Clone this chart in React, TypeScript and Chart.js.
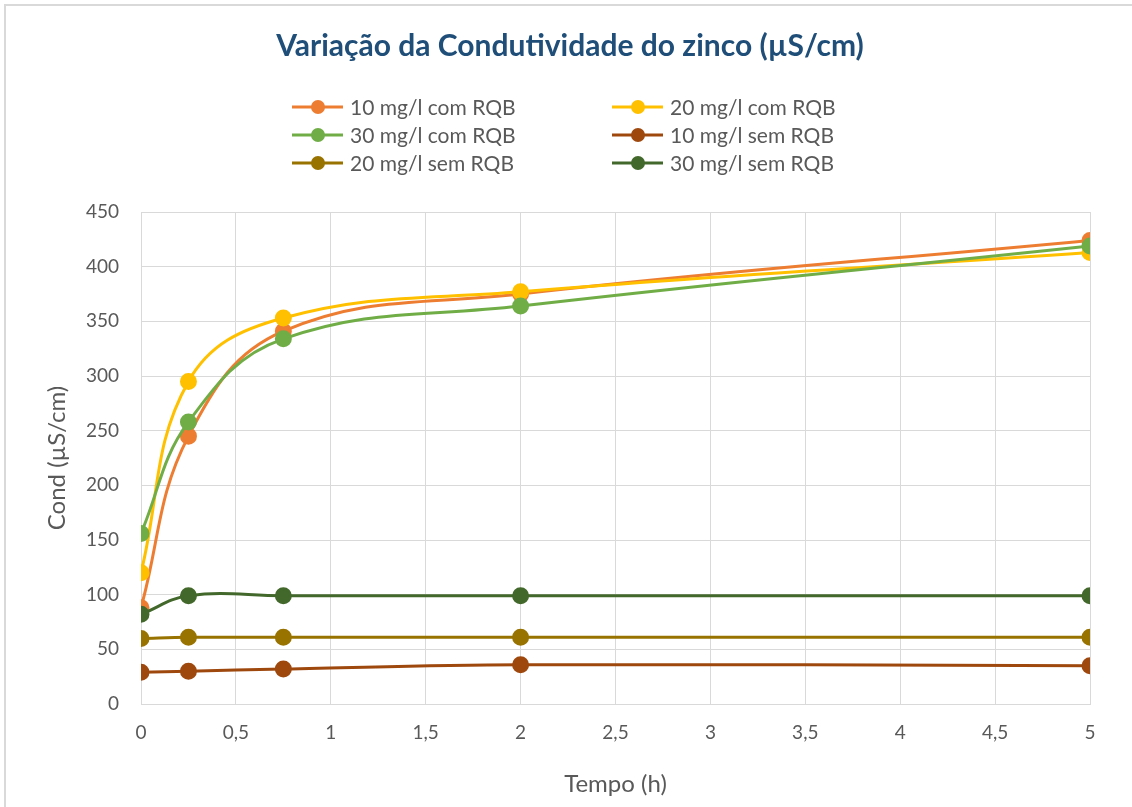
import React, { useEffect, useRef } from "react";
import { Chart, registerables } from "chart.js";

Chart.register(...registerables);

const TIMES = [0, 0.25, 0.75, 2, 5];
const SERIES_NAMES = [
  "10 mg/l com RQB",
  "20 mg/l com RQB",
  "30 mg/l com RQB",
  "10 mg/l sem RQB",
  "20 mg/l sem RQB",
  "30 mg/l sem RQB",
];
const COM10 = [88, 245, 341, 375, 424];
const COM20 = [120, 295, 353, 377, 413];
const COM30 = [156, 258, 334, 364, 419];
const SEM10 = [29, 30, 32, 36, 35];
const SEM20 = [60, 61, 61, 61, 61];
const SEM30 = [82, 99, 99, 99, 99];
const COLORS = ["#ED7D31", "#FFC000", "#70AD47", "#9E480E", "#997300", "#43682B"];
const X_TICKS_MIN = 0;
const X_TICKS_MAX = 5;
const Y_TICKS_MIN = 0;
const Y_TICKS_MAX = 450;

const TITLE = "Variação da Condutividade do zinco (µS/cm)";
const X_TITLE = "Tempo (h)";
const Y_TITLE = "Cond (µS/cm)";

const FONT = "Lato, 'Open Sans', sans-serif";
const GRAY = "#595959";

const legendPlugin = {
  id: "twoColLegend",
  afterDraw(chart: any) {
    const ctx = chart.ctx;
    const datasets = chart.data.datasets;
    const colX = [292, 612];
    const rowY = [107, 135, 163];
    ctx.save();
    ctx.font = `21px ${FONT}`;
    ctx.textBaseline = "middle";
    ctx.textAlign = "left";
    datasets.forEach((ds: any, i: number) => {
      const x = colX[i % 2];
      const y = rowY[Math.floor(i / 2)];
      ctx.strokeStyle = ds.borderColor;
      ctx.lineWidth = 3;
      ctx.beginPath();
      ctx.moveTo(x, y);
      ctx.lineTo(x + 51, y);
      ctx.stroke();
      ctx.fillStyle = ds.borderColor;
      ctx.beginPath();
      ctx.arc(x + 26, y, 7, 0, Math.PI * 2);
      ctx.fill();
      ctx.fillStyle = GRAY;
      ctx.fillText(ds.label, x + 58, y + 1);
    });
    ctx.restore();
  },
};

export default function App() {
  const ref = useRef<HTMLCanvasElement>(null);
  useEffect(() => {
    document.body.style.margin = "0";
    const values = [COM10, COM20, COM30, SEM10, SEM20, SEM30];
    const n = values.length;
    const chart = new Chart(ref.current!, {
      type: "line",
      data: {
        datasets: values.map((vals, i) => ({
          label: SERIES_NAMES[i],
          data: TIMES.map((t, j) => ({ x: t, y: vals[j] })),
          borderColor: COLORS[i],
          backgroundColor: COLORS[i],
          pointBackgroundColor: COLORS[i],
          pointBorderColor: COLORS[i],
          borderWidth: 3,
          pointRadius: 7,
          pointHoverRadius: 7,
          tension: 0.4,
          fill: false,
          order: n - i,
        })),
      },
      options: {
        animation: false,
        responsive: false,
        maintainAspectRatio: false,
        layout: { padding: { left: 8, right: 0, top: 0, bottom: 0 } },
        plugins: {
          legend: { display: false },
          tooltip: { enabled: false },
          title: {
            display: true,
            text: TITLE,
            color: "#1F4E79",
            font: { family: FONT, size: 30, weight: "bold" },
            padding: { top: 28, bottom: 148 },
          },
        },
        scales: {
          x: {
            type: "linear",
            min: X_TICKS_MIN,
            max: X_TICKS_MAX,
            grid: { color: "#D9D9D9", lineWidth: 1, drawTicks: false },
            border: { color: "#D9D9D9", width: 1 },
            afterFit: (scale: any) => {
              scale.height = 103;
            },
            ticks: {
              stepSize: 0.5,
              padding: 17,
              color: GRAY,
              font: { family: FONT, size: 19 },
              callback: (v: any) => String(v).replace(".", ","),
            },
            title: {
              display: true,
              text: X_TITLE,
              color: GRAY,
              font: { family: FONT, size: 24 },
              padding: { top: 0, bottom: 8 },
            },
          },
          y: {
            min: Y_TICKS_MIN,
            max: Y_TICKS_MAX,
            grid: { color: "#D9D9D9", lineWidth: 1, drawTicks: false },
            border: { color: "#D9D9D9", width: 1 },
            afterFit: (scale: any) => {
              scale.width = 133;
            },
            ticks: {
              stepSize: 50,
              padding: 22,
              color: GRAY,
              font: { family: FONT, size: 19 },
            },
            title: {
              display: true,
              text: Y_TITLE,
              color: GRAY,
              font: { family: FONT, size: 24 },
              padding: { top: 35, bottom: 0 },
            },
          },
          yRight: {
            position: "right",
            min: Y_TICKS_MIN,
            max: Y_TICKS_MAX,
            grid: { display: false, drawOnChartArea: false, drawTicks: false },
            border: { display: false },
            ticks: { display: false },
            afterFit: (scale: any) => {
              scale.width = 42;
            },
          },
        },
      },
      plugins: [legendPlugin],
    });
    return () => chart.destroy();
  }, []);
  return (
    <div style={{ position: "relative", width: 1132, height: 807, background: "#fff", overflow: "hidden" }}>
      <canvas ref={ref} width={1132} height={807} style={{ display: "block" }} />
      <div
        style={{
          position: "absolute",
          left: 4,
          top: 4,
          right: -10,
          bottom: -10,
          borderTop: "2px solid #D9D9D9",
          borderLeft: "2px solid #D9D9D9",
          pointerEvents: "none",
        }}
      />
    </div>
  );
}
